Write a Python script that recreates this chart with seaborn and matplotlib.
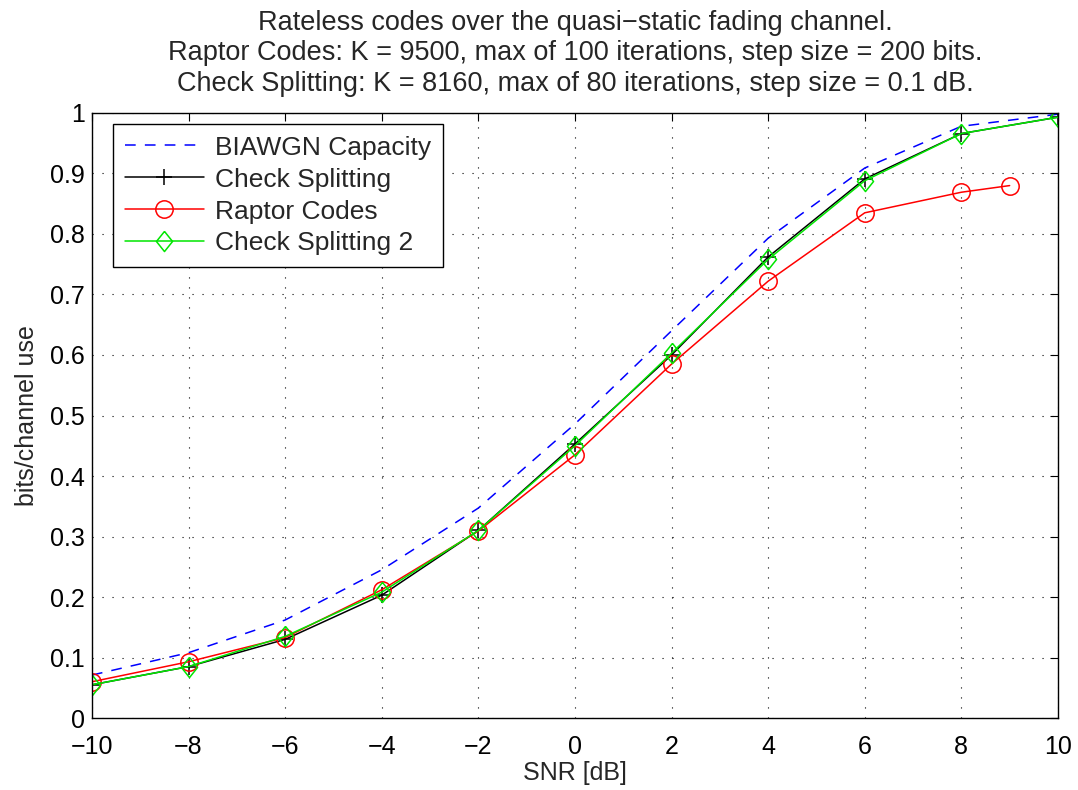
import matplotlib as mpl
mpl.use('Agg')
from matplotlib import pyplot as plt
import numpy as np
import seaborn as sb

sb.set_style("white")
mpl.rcParams['font.family'] = ['Liberation Sans', 'DejaVu Sans']
mpl.rcParams['xtick.direction'] = 'in'
mpl.rcParams['ytick.direction'] = 'in'
mpl.rcParams['axes.unicode_minus'] = True

# values
snr_cap = [-10, -8, -6, -4, -2, 0, 2, 4, 6, 8, 10]
capacity = [0.071, 0.108, 0.162, 0.245, 0.347, 0.486, 0.640, 0.793, 0.909, 0.978, 0.998]

snr_cs = [-10, -8, -6, -4, -2, 0, 2, 4, 6, 8, 10]
check_split = [0.055, 0.085, 0.130, 0.203, 0.310, 0.453, 0.600, 0.762, 0.891, 0.966, 0.993]

snr_raptor = [-10, -8, -6, -4, -2, 0, 2, 4, 6, 8, 9]
raptor = [0.060, 0.093, 0.133, 0.212, 0.309, 0.435, 0.585, 0.722, 0.835, 0.869, 0.880]

snr_cs2 = [-10, -8, -6, -4, -2, 0, 2, 4, 6, 8, 10]
check_split2 = [0.055, 0.085, 0.135, 0.208, 0.310, 0.450, 0.603, 0.758, 0.888, 0.966, 0.993]

xticks = list(range(-10, 11, 2))
yticks = [round(0.1 * i, 1) for i in range(11)]
ytick_labels = ["0"] + ["%.1f" % v for v in yticks[1:-1]] + ["1"]

# matlab style diamond (a bit taller than wide)
diamond = [(0, 1), (0.8, 0), (0, -1), (-0.8, 0), (0, 1)]
green = '#00e600'
fs = 18

fig = plt.figure(figsize=(10.78, 7.9), dpi=100)
ax1 = fig.add_axes([0.0853, 0.0911, 0.8961, 0.7659])

sb.lineplot(x=snr_cap, y=capacity, ax=ax1, color='blue', linestyle=(0, (7, 6)),
            linewidth=1.1, label='BIAWGN Capacity')
sb.lineplot(x=snr_cs, y=check_split, ax=ax1, color='black', marker='+',
            markersize=11, markeredgecolor='black', markeredgewidth=1.1,
            linewidth=1.1, label='Check Splitting')
sb.lineplot(x=snr_raptor, y=raptor, ax=ax1, color='red', marker='o',
            markersize=12.5, markerfacecolor='none', markeredgecolor='red',
            markeredgewidth=1.1, linewidth=1.1, label='Raptor Codes')
sb.lineplot(x=snr_cs2, y=check_split2, ax=ax1, color=green, marker=diamond,
            markersize=14.5, markerfacecolor='none', markeredgecolor=green,
            markeredgewidth=1.1, linewidth=1.1, label='Check Splitting 2')

ax1.set_xlim(-10, 10)
ax1.set_ylim(0, 1)
ax1.set_xticks(xticks)
ax1.set_yticks(yticks)
ax1.set_yticklabels(ytick_labels)
ax1.tick_params(labelsize=fs, top=True, right=True, length=6, width=0.8,
                colors='black', pad=5)
ax1.tick_params(axis='x', pad=12)
ax1.grid(True, linestyle=(0, (1, 8)), color='black', linewidth=0.8)
for s in ax1.spines.values():
    s.set_color('black')
    s.set_linewidth(1.0)

ax1.set_xlabel("SNR [dB]", fontsize=fs, labelpad=2)
ax1.set_ylabel("bits/channel use", fontsize=fs, labelpad=8)
ax1.set_title("Rateless codes over the quasi\u2212static fading channel.\n"
              "Raptor Codes: K = 9500, max of 100 iterations, step size = 200 bits.\n"
              "Check Splitting: K = 8160, max of 80 iterations, step size = 0.1 dB.",
              fontsize=19.5, linespacing=1.22, pad=16)

leg = ax1.legend(loc='upper left', bbox_to_anchor=(0.0217, 0.982),
                 fontsize=19, frameon=True, fancybox=False,
                 edgecolor='black', framealpha=1, borderaxespad=0,
                 handlelength=3.0, labelspacing=0.3, borderpad=0.45,
                 handletextpad=0.4)
leg.get_frame().set_linewidth(1.0)

fig.savefig('out.png', format='png', dpi=100)
